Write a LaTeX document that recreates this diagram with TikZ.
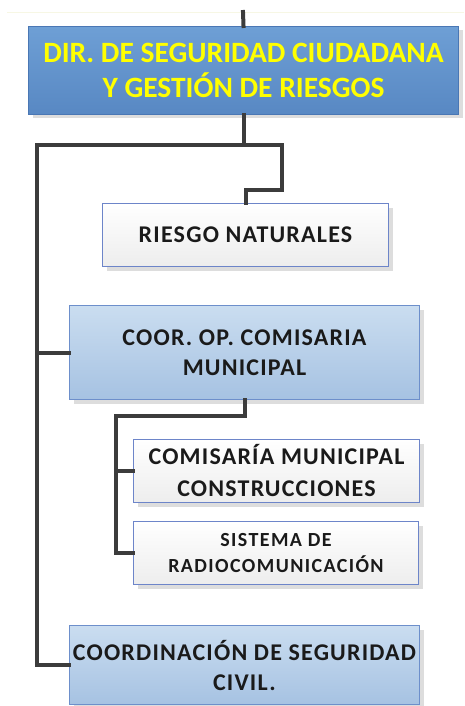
\documentclass[tikz,border=0pt]{standalone}
\usepackage{fontspec}
\setmainfont{Carlito}
\newfontfamily\spacedA[LetterSpace=5]{Carlito}
\newfontfamily\spacedB[LetterSpace=7]{Carlito}
\usetikzlibrary{shadows}
\definecolor{dirtop}{HTML}{6E9FD5}
\definecolor{dirbot}{HTML}{5888C3}
\definecolor{dirline}{HTML}{4A77B4}
\definecolor{coortop}{HTML}{CADDF0}
\definecolor{coorbot}{HTML}{A6C2E2}
\definecolor{coorline}{HTML}{6D8FCB}
\definecolor{whbot}{HTML}{EDEDED}
\definecolor{whline}{HTML}{6D85C9}
\definecolor{connc}{HTML}{3C3C3C}
\definecolor{txtc}{HTML}{1A1A1A}
\definecolor{ytxt}{HTML}{FFFF00}
\definecolor{faint}{HTML}{F7F7E4}
\tikzset{
  boxbase/.style={rectangle, inner sep=0pt, anchor=north west, align=center,
    drop shadow={shadow xshift=4pt, shadow yshift=-4pt, fill=black!22, opacity=0.6}},
  dirbox/.style={boxbase, draw=dirline, line width=1pt, top color=dirtop, bottom color=dirbot,
    text=ytxt, font=\fontsize{29.5}{35}\selectfont\bfseries},
  coorbox/.style={boxbase, draw=coorline, line width=1pt, top color=coortop, bottom color=coorbot,
    text=txtc, font=\spacedA\fontsize{24}{30}\selectfont\bfseries},
  whbox/.style={boxbase, draw=whline, line width=1pt, top color=white, bottom color=whbot,
    text=txtc, font=\spacedA\fontsize{24}{32}\selectfont\bfseries},
  conn/.style={draw=connc, line width=4pt, line join=miter, line cap=rect}
}
\begin{document}
\begin{tikzpicture}[x=1pt,y=-1pt]
\useasboundingbox (0,0) rectangle (464,706);
\draw[faint, line width=0.6pt] (7,12) -- (464,12);
\node[dirbox, minimum width=430pt, minimum height=88pt] (dir) at (28,26)
  {DIR. DE SEGURIDAD CIUDADANA\\Y GESTIÓN DE RIESGOS};
\node[whbox, minimum width=286pt, minimum height=63pt] (riesgo) at (102,203)
  {RIESGO NATURALES};
\node[coorbox, minimum width=350pt, minimum height=94pt] (coor) at (69,305)
  {COOR. OP. COMISARIA\\MUNICIPAL};
\node[whbox, minimum width=286pt, minimum height=63pt] (comis) at (133,439)
  {COMISARÍA MUNICIPAL\\CONSTRUCCIONES};
\node[whbox, minimum width=285pt, minimum height=63pt, font=\spacedB\fontsize{20}{26}\selectfont\bfseries] (sist) at (133,521)
  {SISTEMA DE\\RADIOCOMUNICACIÓN};
\node[coorbox, minimum width=350pt, minimum height=79pt] (coord) at (69,625)
  {COORDINACIÓN DE SEGURIDAD\\CIVIL.};
\coordinate (ctop) at (243,12);
\coordinate (jL) at (37,145);
\coordinate (jR) at (282,145);
\coordinate (jK) at (282,190);
\coordinate (jS) at (116,416);
\draw[conn] (ctop) -- (dir.north);
\draw[conn] (dir.south) -- (dir.south |- jL);
\draw[conn] (jL) -- (jR) -- (jK) -| (riesgo.north);
\draw[conn] (jL) |- (coord.west);
\draw[conn] (jL |- coor.west) -- (coor.west);
\draw[conn] (coor.south) |- (jS);
\draw[conn] (jS) |- (sist.west);
\draw[conn] (jS |- comis.west) -- (comis.west);
\end{tikzpicture}
\end{document}
